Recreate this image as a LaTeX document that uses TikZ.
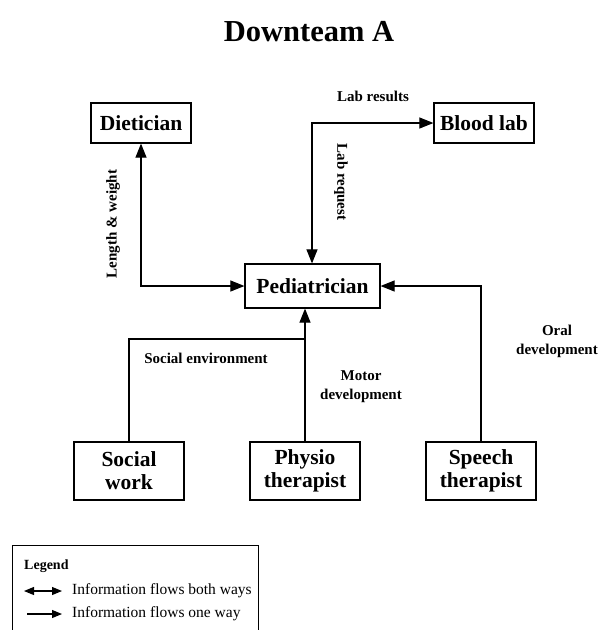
\documentclass[tikz,border=0pt]{standalone}
\usepackage{fontspec}
\setmainfont{Liberation Serif}
\usetikzlibrary{arrows.meta}
\begin{document}
\begin{tikzpicture}[x=1pt,y=-1pt,
  tip/.style={Triangle[length=14pt,width=11pt]},
  box/.style={draw, line width=1.2pt, inner sep=0pt, align=center,
    font=\fontsize{21.5}{23}\selectfont\bfseries},
  flow/.style={line width=1.1pt, -{Triangle[length=14pt,width=11pt]}},
  both/.style={line width=1.1pt, {Triangle[length=14pt,width=11pt]}-{Triangle[length=14pt,width=11pt]}},
  lbl/.style={font=\fontsize{15}{19}\selectfont\bfseries, align=center, inner sep=0pt},
  legtxt/.style={font=\fontsize{15.5}{17}\selectfont, anchor=west, inner sep=0pt}]
\useasboundingbox (0,0) rectangle (599,630);
\clip (0,0) rectangle (599,630);

% title
\node[font=\fontsize{30.5}{32}\selectfont\bfseries] (title) at (309,32) {Downteam A};

% team members
\node[box, minimum width=100pt, minimum height=40pt] (diet) at (141,123) {Dietician};
\node[box, minimum width=100pt, minimum height=40pt] (blood) at (484,123) {Blood lab};
\node[box, minimum width=135pt, minimum height=44pt] (ped) at (312.5,286) {Pediatrician};
\node[box, minimum width=110pt, minimum height=58pt] (social) at (129,471) {Social\\work};
\node[box, minimum width=110pt, minimum height=58pt] (physio) at (305,471) {Physio\\therapist};
\node[box, minimum width=110pt, minimum height=58pt] (speech) at (481,471) {Speech\\therapist};

% corner points of the connectors
\coordinate (cdiet) at (141,286);
\coordinate (cblood) at (312,123);
\coordinate (csocial) at (129,339);
\coordinate (cjoin) at (305,339);
\coordinate (cspeech) at (481,286);

% connectors
\draw[both] (diet.south) -- (cdiet) -- (ped.west);
\draw[both] (ped.north -| cblood) -- (cblood) -- (blood.west);
\draw[flow] (physio.north) -- (ped.south -| physio.north);
\draw[line width=1.1pt] (social.north) -- (csocial) -- (cjoin);
\draw[flow] (speech.north) -- (cspeech) -- (ped.east);

% connector labels
\node[lbl] (lres) at (373,96) {Lab results};
\node[lbl, rotate=-90] (lreq) at (341,182) {Lab request};
\node[lbl, rotate=90] (llen) at (113,224) {Length \& weight};
\node[lbl] (lsoc) at (206,358) {Social environment};
\node[lbl] (lmot) at (361,387) {Motor\\development};
\node[lbl] (lora) at (557,341) {Oral\\development};

% legend
\draw[line width=0.8pt] (12,640) -- (12,545) -- (258,545) -- (258,640);
\node[font=\fontsize{14}{15}\selectfont\bfseries, anchor=west, inner sep=0pt] (leg) at (24,566) {Legend};
\coordinate (la1) at (24,591);
\coordinate (lb1) at (62,591);
\coordinate (la2) at (27,614);
\coordinate (lb2) at (62,614);
\draw[line width=1.1pt, {Triangle[length=10pt,width=8pt]}-{Triangle[length=10pt,width=8pt]}] (la1) -- (lb1);
\draw[line width=1.1pt, -{Triangle[length=10pt,width=8pt]}] (la2) -- (lb2);
\node[legtxt] (lt1) at (72,591) {Information flows both ways};
\node[legtxt] (lt2) at (72,614) {Information flows one way};
\end{tikzpicture}
\end{document}
